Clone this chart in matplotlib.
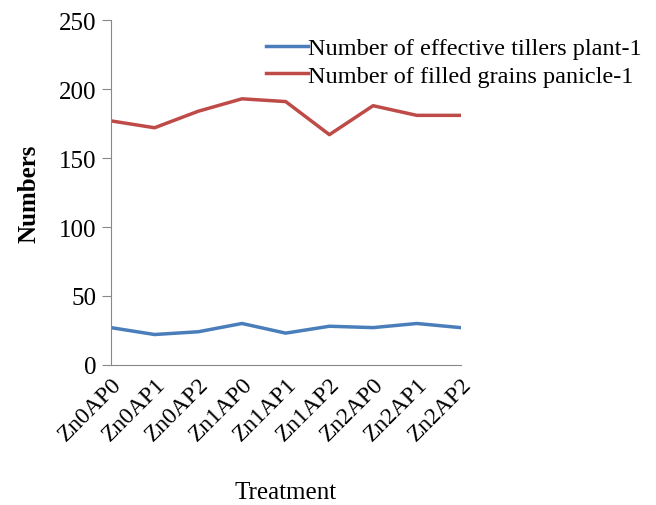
import numpy as np
import matplotlib.pyplot as plt

plt.rcParams['font.family'] = ['Liberation Serif', 'DejaVu Serif']

# Data
treatments = ['Zn0AP0', 'Zn0AP1', 'Zn0AP2', 'Zn1AP0', 'Zn1AP1',
              'Zn1AP2', 'Zn2AP0', 'Zn2AP1', 'Zn2AP2']
tillers = [27, 22, 24, 30, 23, 28, 27, 30, 27]
grains = [177, 172, 184, 193, 191, 167, 188, 181, 181]

fig = plt.figure(figsize=(6.56, 5.06), dpi=100)
ax = fig.add_axes([0.169, 0.277, 0.533, 0.681])

x = np.arange(len(treatments))
ax.plot(x, tillers, color='#4a7ebb', lw=2.5, label='Number of effective tillers plant-1')
ax.plot(x, grains, color='#be4b48', lw=2.5, label='Number of filled grains panicle-1')

ax.set_xlim(0, len(treatments) - 1)
ax.set_ylim(0, 250)
ax.set_yticks(np.arange(0, 251, 50))
ax.set_xticks(x)
ax.set_xticklabels(treatments, rotation=45, ha='right', rotation_mode='anchor')
ax.tick_params(axis='y', labelsize=18, color='#888888', length=6.5, pad=4)
ax.tick_params(axis='x', labelsize=17, length=0, pad=6)

for s in ['top', 'right']:
    ax.spines[s].set_visible(False)
for s in ['left', 'bottom']:
    ax.spines[s].set_color('#888888')

ax.set_ylabel('Numbers', fontsize=18, fontweight='bold', labelpad=13)
ax.set_xlabel('Treatment', fontsize=18, labelpad=26)

fig.legend(loc='upper left', bbox_to_anchor=(0.372, 0.968), frameon=False,
           fontsize=17.5, handlelength=1.75, handletextpad=0.0, labelspacing=0.23)

fig.savefig('out.png', dpi=100)
